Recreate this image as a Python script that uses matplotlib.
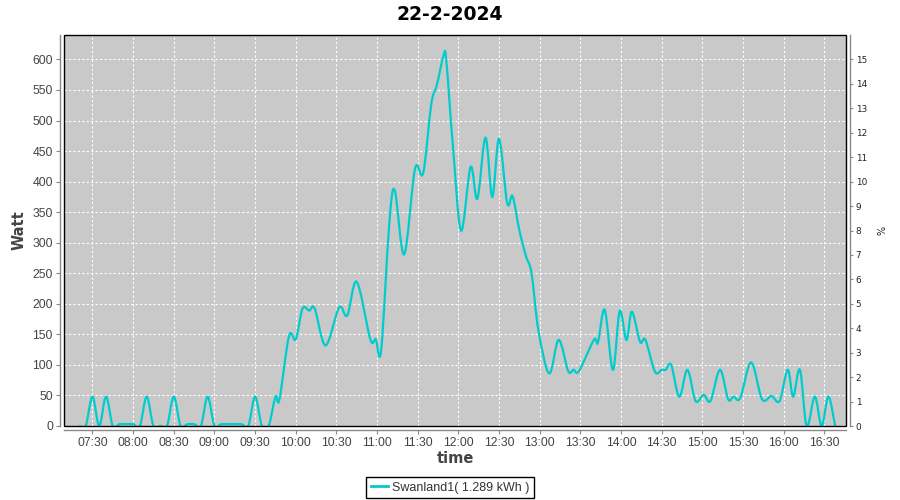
import matplotlib
matplotlib.use("Agg")
import matplotlib.pyplot as plt
from matplotlib.path import Path
from matplotlib.patches import PathPatch, Rectangle
from matplotlib.lines import Line2D
import numpy as np

title = "22-2-2024"
series_name = "Swanland1( 1.289 kWh )"

times = ["07:20", "07:25", "07:30", "07:35", "07:40", "07:45", "07:50", "07:55", "08:00",
         "08:05", "08:10", "08:15", "08:20", "08:25", "08:30", "08:35", "08:40", "08:45",
         "08:50", "08:55", "09:00", "09:05", "09:10", "09:15", "09:20", "09:25", "09:30",
         "09:35", "09:40", "09:45", "09:48", "09:55", "10:00", "10:05", "10:10", "10:14",
         "10:22", "10:32", "10:38", "10:45", "10:55", "10:59", "11:03", "11:09", "11:13",
         "11:20", "11:28", "11:34", "11:40", "11:44", "11:49", "11:51", "11:56", "12:02",
         "12:09", "12:14", "12:20", "12:25", "12:30", "12:36", "12:40", "12:45", "12:50",
         "12:54", "12:59", "13:07", "13:14", "13:21", "13:25", "13:29", "13:40", "13:43",
         "13:48", "13:54", "13:59", "14:04", "14:08", "14:14", "14:18", "14:25", "14:30",
         "14:33", "14:37", "14:43", "14:49", "14:55", "15:01", "15:06", "15:13", "15:19",
         "15:23", "15:28", "15:36", "15:44", "15:51", "15:57", "16:03", "16:07", "16:12",
         "16:17", "16:23", "16:28", "16:33", "16:38"]
watts = [0, 0, 48, 0, 48, 0, 3, 3, 3,
         0, 48, 0, 0, 0, 48, 0, 3, 3,
         0, 48, 0, 3, 3, 3, 3, 0, 48,
         0, 0, 48, 44, 147, 142, 192, 189, 192,
         132, 194, 181, 236, 142, 142, 124, 331, 386,
         281, 421, 414, 527, 557, 606, 600, 457, 320,
         424, 372, 472, 375, 470, 365, 376, 320, 277,
         250, 157, 86, 141, 90, 92, 90, 141, 137,
         190, 92, 188, 141, 187, 138, 141, 89, 92,
         92, 100, 48, 92, 41, 51, 41, 92, 44,
         48, 46, 104, 44, 49, 41, 92, 48, 92,
         0, 48, 0, 48, 0]

tick_labels = ["07:30", "08:00", "08:30", "09:00", "09:30", "10:00", "10:30", "11:00",
               "11:30", "12:00", "12:30", "13:00", "13:30", "14:00", "14:30", "15:00",
               "15:30", "16:00", "16:30"]
watt_ticks = list(range(0, 601, 50))
pct_ticks = list(range(0, 16))


def to_min(s):
    h, m = s.split(":")
    return int(h) * 60 + int(m)


x = np.array([to_min(t) for t in times], dtype=float)
y = np.array(watts, dtype=float)

fig = plt.figure(figsize=(9, 5), dpi=100)
fig.patch.set_facecolor("white")
ax = fig.add_axes([64 / 900, 1 - 426 / 500, (846 - 64) / 900, (426 - 35) / 500])
ax.set_facecolor("#c9c9c9")

# Smooth (Catmull-Rom style) curve through the data points, like a spline renderer
P = np.column_stack([x, y])
Pext = np.vstack([P[0], P, P[-1]])
verts = [tuple(P[0])]
codes = [Path.MOVETO]
for i in range(1, len(Pext) - 2):
    p0, p1, p2, p3 = Pext[i - 1], Pext[i], Pext[i + 1], Pext[i + 2]
    c1 = p1 + (p2 - p0) / 6.0
    c2 = p2 - (p3 - p1) / 6.0
    verts += [tuple(c1), tuple(c2), tuple(p2)]
    codes += [Path.CURVE4] * 3
patch = PathPatch(Path(verts, codes), facecolor="none", edgecolor="#00cccc", lw=1.6, zorder=3)
ax.add_patch(patch)

ax.set_xlim(to_min("07:09"), to_min("16:46"))
ax.set_ylim(0, 640)

ax.set_xticks([to_min(t) for t in tick_labels])
ax.set_xticklabels(tick_labels)
ax.set_yticks(watt_ticks)

ax.grid(True, color="white", linestyle=(0, (2, 2)), linewidth=0.8)
ax.set_axisbelow(True)

for side in ["left", "bottom"]:
    ax.spines[side].set_position(("outward", 3))
    ax.spines[side].set_color("#888888")
    ax.spines[side].set_linewidth(1.0)
ax.spines["top"].set_visible(False)
ax.spines["right"].set_visible(False)
ax.tick_params(axis="both", which="major", length=3, width=0.8, color="#888888", pad=2,
               labelsize=8.7, labelcolor="#444444", labelfontfamily="Liberation Sans")

# plot area border
ax.add_patch(Rectangle((0, 0), 1, 1, transform=ax.transAxes, fill=False,
                       edgecolor="black", lw=1.0, zorder=5, clip_on=False))

ax2 = ax.twinx()
ax2.set_ylim(0, 16)
ax2.set_yticks(pct_ticks)
ax2.spines["right"].set_position(("outward", 3))
ax2.spines["right"].set_color("#888888")
ax2.spines["right"].set_linewidth(1.0)
for s in ["top", "left", "bottom"]:
    ax2.spines[s].set_visible(False)
ax2.tick_params(axis="y", length=2, width=0.8, color="#888888", pad=2,
                labelsize=6.4, labelcolor="#222222", labelfontfamily="DejaVu Sans")
ax2.set_ylabel("%", fontsize=7, family="DejaVu Sans", color="#222222")
ax2.yaxis.set_label_coords((877 - 64) / 782, 0.5)

ax.set_xlabel("time", fontsize=10.5, fontweight="bold", color="#444444", family="DejaVu Sans")
ax.xaxis.set_label_coords(0.5, (426 - 451) / 391)
ax.set_ylabel("Watt", fontsize=10.5, fontweight="bold", color="#444444", family="DejaVu Sans")
ax.yaxis.set_label_coords((27 - 64) / 782, 0.5)

fig.text(0.5, 1 - 14 / 500, title, ha="center", va="center", fontsize=13.5,
         fontweight="bold", family="DejaVu Sans", color="black")

handle = Line2D([], [], color="#00cccc", lw=2)
leg = fig.legend([handle], [series_name], loc="center", bbox_to_anchor=(0.5, 1 - 487.5 / 500),
                 frameon=True, fancybox=False, edgecolor="black", framealpha=1,
                 prop=dict(family="Liberation Sans", size=9), handlelength=1.4,
                 handletextpad=0.3, borderpad=0.35, borderaxespad=0)
leg.get_frame().set_linewidth(1.0)
for t in leg.get_texts():
    t.set_color("#333333")

fig.savefig("out.png", dpi=100)
